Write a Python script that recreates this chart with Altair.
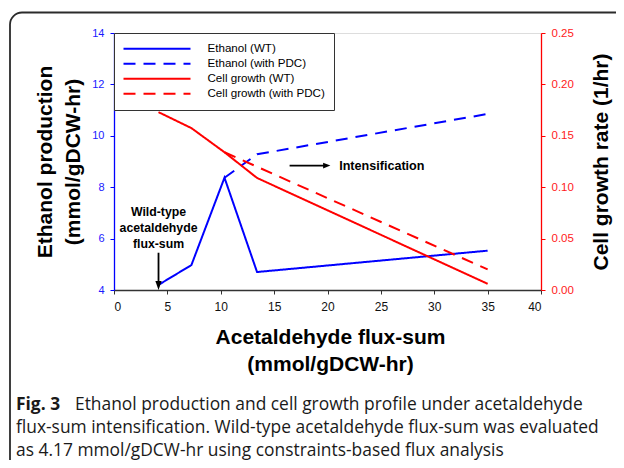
import altair as alt
import pandas as pd

# ---------------- data ----------------
flux_wt = [4.17, 7.25, 10.35, 13.4, 35.0]
ethanol_wt = [4.2, 4.97, 8.37, 4.7, 5.53]
flux_pdc_ethanol = [10.35, 13.4, 35.0]
ethanol_pdc = [8.37, 9.28, 10.85]
growth_wt = [0.173, 0.1575, 0.134, 0.109, 0.006]
flux_pdc_growth = [10.35, 35.0]
growth_pdc = [0.134, 0.02]

series_names = ["Ethanol (WT)", "Ethanol (with PDC)", "Cell growth (WT)", "Cell growth (with PDC)"]
series_colors = ["#0000ff", "#0000ff", "#ff0000", "#ff0000"]
series_dashes = [[1, 0], [12, 8], [1, 0], [12, 8]]

x_ticks = [0, 5, 10, 15, 20, 25, 30, 35, 40]
ethanol_ticks = [4, 6, 8, 10, 12, 14]
growth_ticks = [0.0, 0.05, 0.10, 0.15, 0.20, 0.25]

x_title = ["Acetaldehyde flux-sum", "(mmol/gDCW-hr)"]
left_title = ["Ethanol production", "(mmol/gDCW-hr)"]
right_title = "Cell growth rate (1/hr)"
wild_type_note = ["Wild-type", "acetaldehyde", "flux-sum"]
intens_note = "Intensification"
caption_bold = "Fig. 3"
caption_lines = [
    "Ethanol production and cell growth profile under acetaldehyde",
    "flux-sum intensification. Wild-type acetaldehyde flux-sum was evaluated",
    "as 4.17 mmol/gDCW-hr using constraints-based flux analysis",
]

# ---------------- tables ----------------
eth_df = pd.DataFrame({
    "flux": flux_wt + flux_pdc_ethanol,
    "value": ethanol_wt + ethanol_pdc,
    "series": [series_names[0]] * len(flux_wt) + [series_names[1]] * len(flux_pdc_ethanol),
})
growth_df = pd.DataFrame({
    "flux": flux_wt + flux_pdc_growth,
    "value": growth_wt + growth_pdc,
    "series": [series_names[2]] * len(flux_wt) + [series_names[3]] * len(flux_pdc_growth),
})
one = pd.DataFrame({"k": [0]})

FONT = "Liberation Sans"

x_axis = alt.Axis(values=x_ticks, grid=False, tickSize=4, labelPadding=7,
                  domainColor="#333333", tickColor="#333333", domainWidth=1.5,
                  labelColor="#111111", labelFontSize=12, labelFont=FONT,
                  title=x_title, titleFont=FONT, titleFontSize=21, titleFontWeight="bold",
                  titleColor="#000000", titleLineHeight=27, titleX=216, titleY=47,
                  titleAlign="center", titleBaseline="middle", titleAngle=0)
x_scale = alt.Scale(domain=[0, 40], nice=False, zero=False)

left_axis = alt.Axis(values=ethanol_ticks, grid=False, tickSize=4, labelPadding=6,
                     domainColor="#0000ff", tickColor="#0000ff", domainWidth=1.3,
                     labelColor="#1a1aff", labelFontSize=11, labelFont=FONT, format="d",
                     title=left_title, titleFont=FONT, titleFontSize=21, titleFontWeight="bold",
                     titleColor="#000000", titleLineHeight=28, titleX=-69, titleY=128.5,
                     titleAngle=270, titleAlign="center", titleBaseline="middle")
eth_scale = alt.Scale(domain=[4, 14], nice=False, zero=False)

right_axis = alt.Axis(orient="right", values=growth_ticks, grid=False, tickSize=4, labelPadding=6,
                      domainColor="#ff0000", tickColor="#ff0000", domainWidth=1.3,
                      labelColor="#ff1a1a", labelFontSize=11.5, labelFont=FONT, format=".2f",
                      title=right_title, titleFont=FONT, titleFontSize=21, titleFontWeight="bold",
                      titleColor="#000000", titleX=60, titleY=128.5,
                      titleAngle=270, titleAlign="center", titleBaseline="middle")
growth_scale = alt.Scale(domain=[0, 0.25], nice=False, zero=False)

legend = alt.Legend(title=None, orient="none", legendX=0, legendY=0, symbolType="stroke",
                    symbolSize=4489, symbolStrokeWidth=2, labelFontSize=11.6, labelFont=FONT,
                    labelColor="#000000", labelOffset=16, clipHeight=14.3, rowPadding=0,
                    padding=8.5, strokeColor="#333333", fillColor="white", labelLimit=400)
color_enc = alt.Color("series:N", scale=alt.Scale(domain=series_names, range=series_colors), legend=legend)
dash_enc = alt.StrokeDash("series:N", scale=alt.Scale(domain=series_names, range=series_dashes), legend=legend)

X = lambda: alt.X("flux:Q", scale=x_scale, axis=x_axis)
YE = lambda f="value": alt.Y(f"{f}:Q", scale=eth_scale, axis=left_axis)

eth_lines = alt.Chart(eth_df).mark_line(strokeWidth=2).encode(
    x=X(), y=YE(), color=color_enc, strokeDash=dash_enc)

# annotations (on the ethanol scale)
wt_arrow = pd.DataFrame({"flux": [4.17], "value": [5.45], "value2": [4.17]})
wt_rule = alt.Chart(wt_arrow).mark_rule(color="#000000", strokeWidth=1.8).encode(
    x=X(), y=YE(), y2="value2:Q")
wt_head = alt.Chart(pd.DataFrame({"flux": [4.17], "value": [4.175]})).mark_point(
    shape="M-0.7,-1L0.7,-1L0,1Z", size=81, filled=True, color="#000000", opacity=1, strokeWidth=0
).encode(x=X(), y=YE())
wt_text = alt.Chart(pd.DataFrame({"flux": [4.17], "value": [7.05]})).mark_text(
    text=wild_type_note, font=FONT, fontSize=12.3, fontWeight="bold", lineHeight=16,
    align="center", baseline="middle", color="#000000"
).encode(x=X(), y=YE())

int_arrow = pd.DataFrame({"flux": [16.45], "flux2": [19.9], "value": [8.84]})
int_rule = alt.Chart(int_arrow).mark_rule(color="#000000", strokeWidth=1.8).encode(
    x=X(), x2="flux2:Q", y=YE())
int_head = alt.Chart(pd.DataFrame({"flux": [19.93], "value": [8.84]})).mark_point(
    shape="M-1,-0.8L1,0L-1,0.8Z", size=53, filled=True, color="#000000", opacity=1, strokeWidth=0
).encode(x=X(), y=YE())
int_text = alt.Chart(pd.DataFrame({"flux": [21.09], "value": [8.84]})).mark_text(
    text=intens_note, font=FONT, fontSize=12.6, fontWeight="bold",
    align="left", baseline="middle", color="#000000"
).encode(x=X(), y=YE())

eth_layer = alt.layer(eth_lines, wt_rule, wt_head, wt_text, int_rule, int_head, int_text)

growth_lines = alt.Chart(growth_df).mark_line(strokeWidth=2).encode(
    x=X(), y=alt.Y("value:Q", scale=growth_scale, axis=right_axis),
    color=color_enc, strokeDash=dash_enc)

# outer frame and caption
frame = alt.Chart(one).mark_rect(fillOpacity=0, stroke="#2b2b2b", strokeWidth=1.8, cornerRadius=12).encode(
    x=alt.value(-104), x2=alt.value(700), y=alt.value(-20.5), y2=alt.value(600))

cap_y = [372, 395, 418]
CAP_SIZE = 17.4
cap_bold = alt.Chart(one).mark_text(text=caption_bold, font="Open Sans", fontSize=CAP_SIZE, fontWeight="bold",
                                    align="left", baseline="middle", color="#1a1a1a").encode(
    x=alt.value(-98), y=alt.value(cap_y[0]))
cap_layers = [cap_bold]
cap_x = [-39, -98, -98]
for i, line in enumerate(caption_lines):
    cap_layers.append(alt.Chart(one).mark_text(text=line, font="Open Sans", fontSize=CAP_SIZE,
                                               align="left", baseline="middle", color="#1a1a1a").encode(
        x=alt.value(cap_x[i]), y=alt.value(cap_y[i])))

chart = alt.layer(frame, eth_layer, growth_lines, *cap_layers).resolve_scale(
    y="independent"
).properties(
    width=427, height=257,
    padding={"left": 106, "top": 25, "right": 75, "bottom": 170},
    autosize=alt.AutoSizeParams(type="none"),
).configure_view(stroke="#333333", strokeWidth=1).configure(font=FONT, background="white")

chart.save("out.html", embed_options={"renderer": "svg", "actions": False})
